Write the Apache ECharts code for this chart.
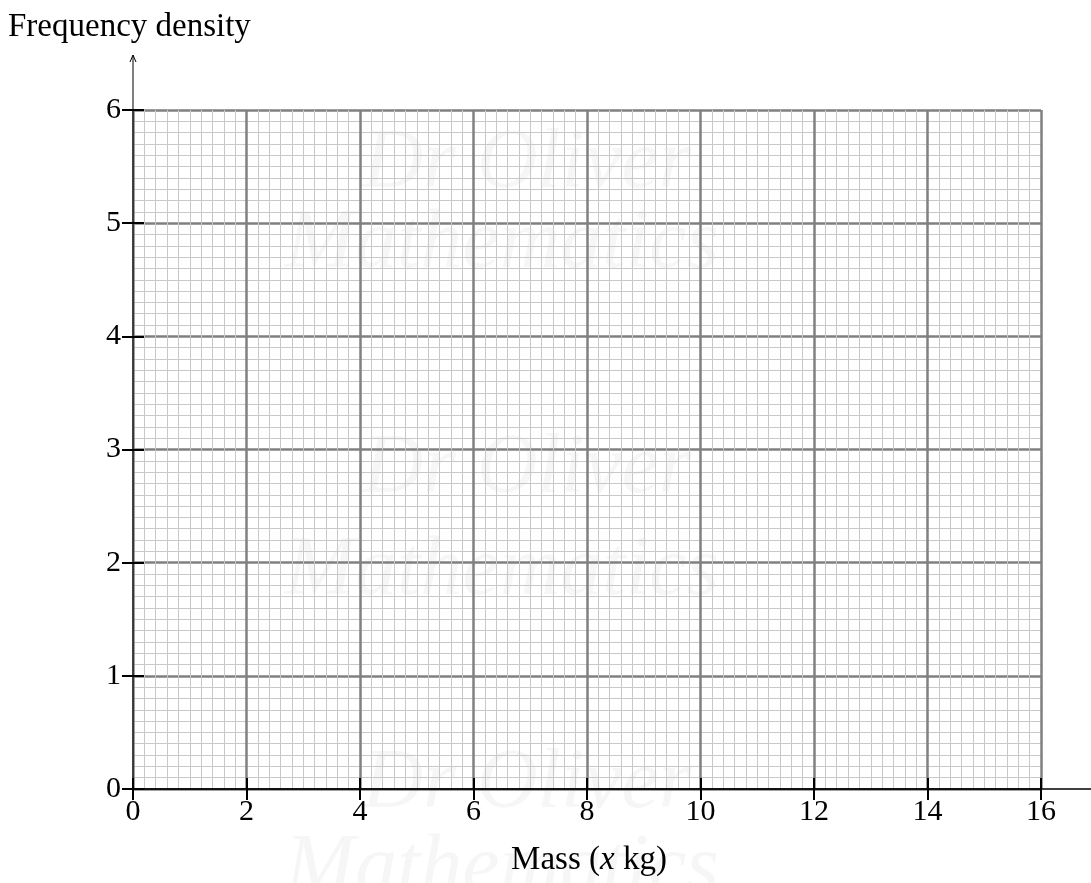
<!DOCTYPE html>
<html>
<head>
<meta charset="utf-8">
<script src="https://cdn.jsdelivr.net/npm/echarts@6/dist/echarts.min.js"></script>
<style>
  html,body{margin:0;padding:0;background:#fff;}
  #chart{width:1091px;height:883px;}
</style>
</head>
<body>
<div id="chart"></div>
<script>
// axis ranges
var xRange = [0, 16]
var yRange = [0, 6]
var xStep = 2
var yStep = 1
var minorSplit = 10
var yTitle = 'Frequency density'
var xTitle = ['Mass (', 'x', ' kg)']
var watermark = ['Dr Oliver', 'Mathematics']

var font = '"Liberation Serif", "DejaVu Serif", serif'

var chart = echarts.init(document.getElementById('chart'))

var baseX = {
  type: 'value', min: xRange[0], max: xRange[1], interval: xStep,
  position: 'bottom'
}
var baseY = {
  type: 'value', min: yRange[0], max: yRange[1], interval: yStep,
  position: 'left'
}

var option = {
  animation: false,
  backgroundColor: '#fff',
  grid: { left: 133, right: 50, top: 110, bottom: 94 },
  xAxis: [
    Object.assign({}, baseX, {
      axisLine: { show: true, onZero: false, lineStyle: { color: '#111', width: 2 } },
      axisTick: { show: true, length: 11, lineStyle: { color: '#000', width: 2 } },
      axisLabel: { margin: 8, color: '#000', fontFamily: font, fontSize: 30 },
      splitLine: { show: true, lineStyle: { color: '#808080', width: 2.5 } },
      minorTick: { show: false, splitNumber: minorSplit },
      minorSplitLine: { show: true, lineStyle: { color: '#c8c8c8', width: 1 } }
    }),
    Object.assign({}, baseX, {
      axisLine: { show: false },
      axisTick: { show: true, inside: true, length: 11, lineStyle: { color: '#000', width: 2 } },
      axisLabel: { show: false },
      splitLine: { show: false }
    })
  ],
  yAxis: [
    Object.assign({}, baseY, {
      axisLine: { show: true, onZero: false, lineStyle: { color: '#222', width: 1.5 } },
      axisTick: { show: true, length: 11, lineStyle: { color: '#000', width: 2 } },
      axisLabel: { margin: 12, color: '#000', fontFamily: font, fontSize: 30 },
      splitLine: { show: true, lineStyle: { color: '#808080', width: 2.5 } },
      minorTick: { show: false, splitNumber: minorSplit },
      minorSplitLine: { show: true, lineStyle: { color: '#c8c8c8', width: 1 } }
    }),
    Object.assign({}, baseY, {
      axisLine: { show: false },
      axisTick: { show: true, inside: true, length: 11, lineStyle: { color: '#000', width: 2 } },
      axisLabel: { show: false },
      splitLine: { show: false }
    })
  ],
  series: [
    { type: 'line', data: [], xAxisIndex: 0, yAxisIndex: 0 },
    { type: 'line', data: [], xAxisIndex: 1, yAxisIndex: 1 }
  ]
}
chart.setOption(option)

// positions of the axes corners, for the arrow, the axis extension and the titles
var o = chart.convertToPixel({ gridIndex: 0 }, [xRange[0], yRange[0]])
var e = chart.convertToPixel({ gridIndex: 0 }, [xRange[1], yRange[1]])
var W = chart.getWidth()
var midX = (o[0] + e[0]) / 2

// faint watermark behind the grid
var wm = []
var wmRows = [[165, 245], [470, 572], [785, 870]]
wmRows.forEach(function (r) {
  wm.push({ type: 'text', z: -10, silent: true,
    style: { text: watermark[0], x: midX - 60, y: r[0], align: 'center', verticalAlign: 'middle',
      font: 'italic 84px ' + font, fill: '#f6f6f6' } })
  wm.push({ type: 'text', z: -10, silent: true,
    style: { text: watermark[1], x: midX - 85, y: r[1], align: 'center', verticalAlign: 'middle',
      font: 'italic 84px ' + font, fill: '#f6f6f6' } })
})

chart.setOption({
  graphic: wm.concat([
    // y axis continues above the grid and ends in an arrow
    { type: 'line', z: 100, shape: { x1: o[0], y1: e[1], x2: o[0], y2: 55 },
      style: { stroke: '#000', lineWidth: 1 } },
    { type: 'polyline', z: 100, shape: { points: [[o[0] - 3, 62], [o[0], 55], [o[0] + 3, 62]] },
      style: { stroke: '#000', lineWidth: 1, fill: null } },
    // x axis continues to the right edge
    { type: 'line', z: 100, shape: { x1: e[0], y1: o[1], x2: W, y2: o[1] },
      style: { stroke: '#000', lineWidth: 1.5 } },
    { type: 'text', z: 100,
      style: { text: yTitle, x: 8, y: 27, verticalAlign: 'middle',
        font: '33px ' + font, fill: '#000' } },
    { type: 'text', z: 100,
      style: { text: '{n|' + xTitle[0] + '}{i|' + xTitle[1] + '}{n|' + xTitle[2] + '}',
        x: midX + 2, y: 860, align: 'center', verticalAlign: 'middle',
        rich: {
          n: { fontFamily: font, fontSize: 33, fill: '#000' },
          i: { fontFamily: font, fontSize: 33, fontStyle: 'italic', fill: '#000' }
        } } }
  ])
})
</script>
</body>
</html>
